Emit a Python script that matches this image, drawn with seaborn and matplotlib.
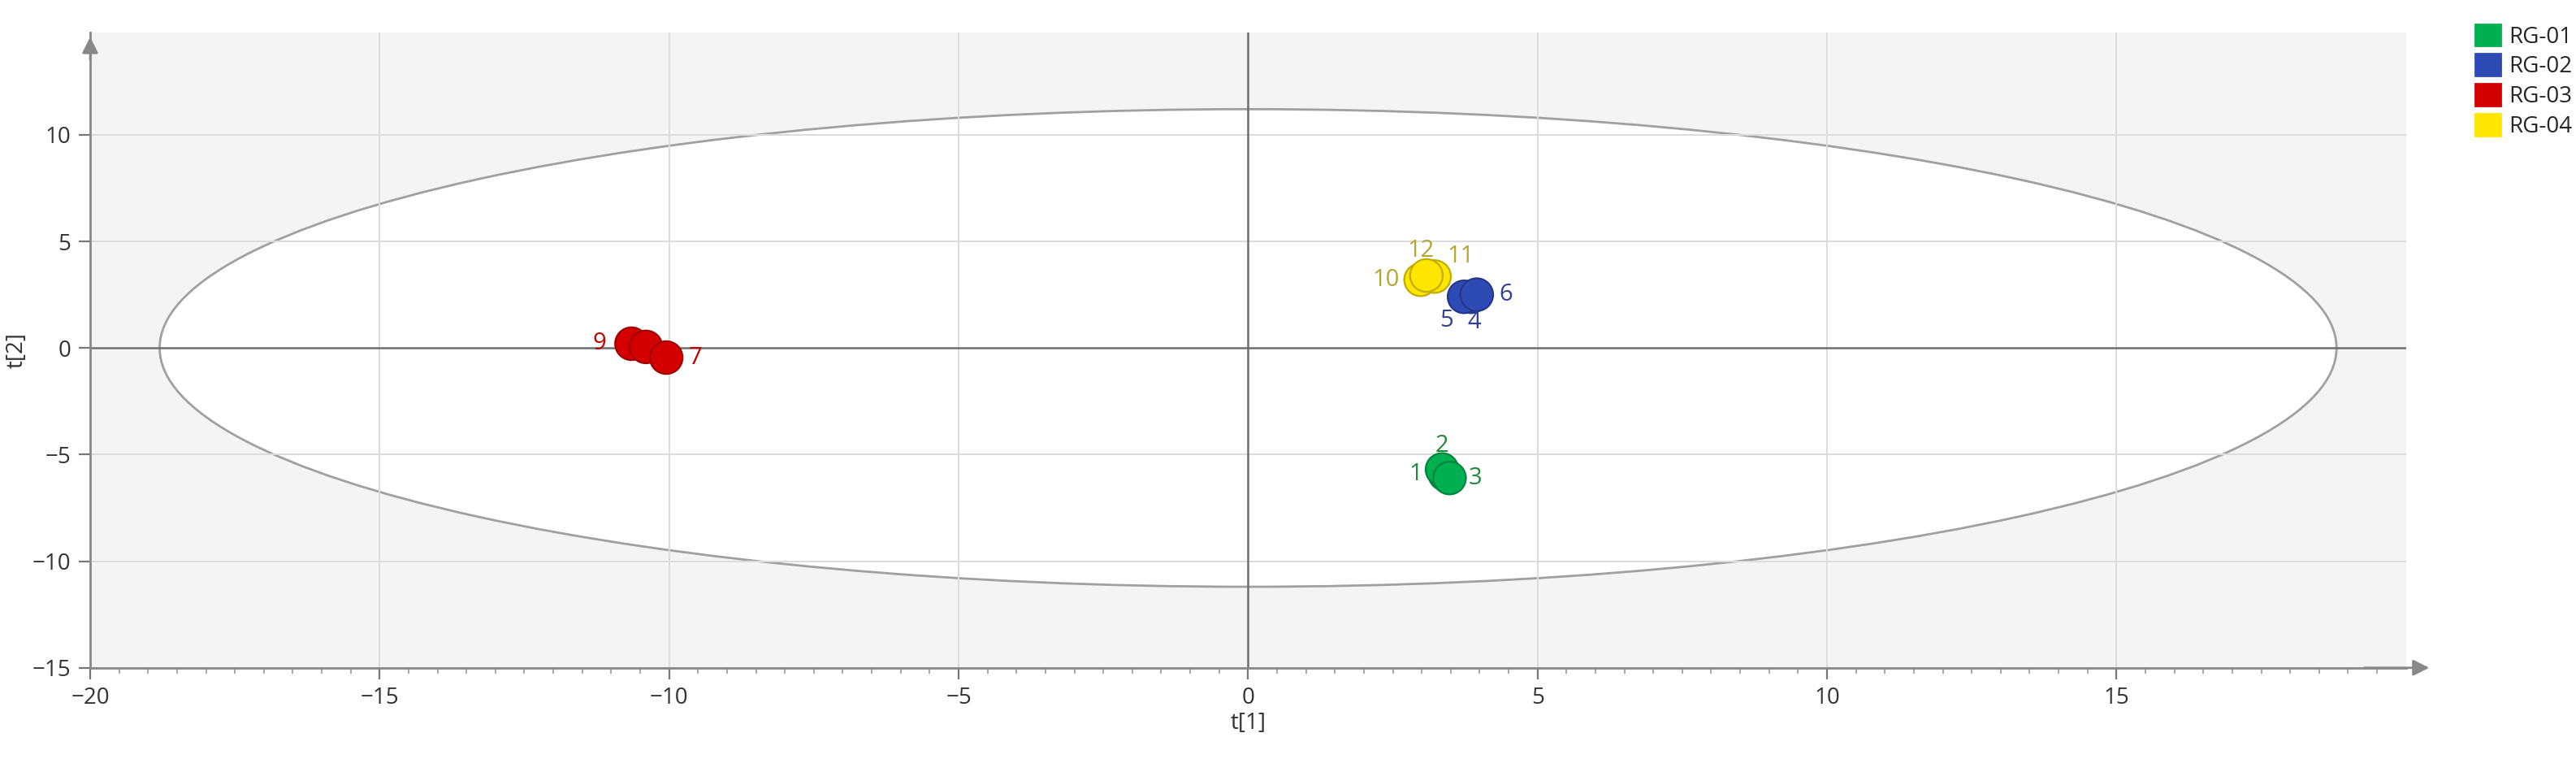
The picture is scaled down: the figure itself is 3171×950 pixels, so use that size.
import matplotlib
matplotlib.use("Agg")
import matplotlib.pyplot as plt
import seaborn as sns
import pandas as pd
from matplotlib.patches import Ellipse, Patch

ids = ["1","2","3","4","5","6","7","8","9","10","11","12"]
groups = ["RG-01"]*3 + ["RG-02"]*3 + ["RG-03"]*3 + ["RG-04"]*3
t1 = [3.40, 3.35, 3.48, 3.85, 3.73, 3.95, -10.05, -10.40, -10.65, 2.98, 3.22, 3.08]
t2 = [-5.93, -5.70, -6.10, 2.40, 2.40, 2.50, -0.45, 0.05, 0.20, 3.20, 3.35, 3.40]
label_dx = [-0.5, 0.0, 0.45, 0.05, -0.3, 0.5, 0.5, 0.0, -0.55, -0.6, 0.45, -0.1]
label_dy = [0.0, 1.1, 0.0, -1.2, -1.1, 0.0, 0.0, 0.05, 0.0, 0.0, 0.95, 1.15]
group_order = ["RG-01", "RG-02", "RG-03", "RG-04"]
colors = ["#00b050", "#2e4bb5", "#d40000", "#ffe600"]
text_colors = ["#1f8a3c", "#2e3f9a", "#c00000", "#b5a632"]

df = pd.DataFrame({"id": ids, "group": groups, "t1": t1, "t2": t2})

sns.set_style("white")
plt.rcParams['font.family'] = ['Open Sans', 'DejaVu Sans']
fig = plt.figure(figsize=(15.855, 4.75), dpi=200)
ax = fig.add_axes([0.035, 0.135, 0.899, 0.823])
ax.set_facecolor("#f4f4f4")
ax.set_xlim(-20, 20)
ax.set_ylim(-15, 14.8)
ax.add_patch(Ellipse((0, 0), 2*18.8, 2*11.2, facecolor="white", edgecolor="#a0a0a0", lw=1.0, zorder=1))
for v in [-15, -10, -5, 5, 10, 15]:
    ax.axvline(v, color="#dcdcdc", lw=0.7, zorder=1.5)
for v in [-10, -5, 5, 10]:
    ax.axhline(v, color="#dcdcdc", lw=0.7, zorder=1.5)
ax.axvline(0, color="#6e6e6e", lw=0.9, zorder=1.6)
ax.axhline(0, color="#6e6e6e", lw=0.9, zorder=1.6)

pal = dict(zip(group_order, colors))
order = [9, 8, 7, 10, 11, 12, 4, 5, 6, 1, 2, 3]
df2 = df.set_index("id").loc[[str(i) for i in order]].reset_index()
sns.scatterplot(data=df2, x="t1", y="t2", hue="group", palette=pal, s=210,
                edgecolor=None, linewidth=0.8, legend=False, ax=ax, zorder=3)
for coll in ax.collections:
    fc = coll.get_facecolors()
    if len(fc):
        ec = fc.copy()
        ec[:, :3] *= 0.75
        coll.set_edgecolors(ec)
tc = dict(zip(group_order, text_colors))
for i, r in df.iterrows():
    ax.text(r.t1 + label_dx[i], r.t2 + label_dy[i], r.id, color=tc[r.group],
            fontsize=10.5, ha="center", va="center", zorder=2.5 if r.id == "8" else 4)

ax.set_xticks([-20, -15, -10, -5, 0, 5, 10, 15])
ax.set_yticks([-15, -10, -5, 0, 5, 10])
ax.set_xticks([x/2 for x in range(-39, 40)], minor=True)
ax.tick_params(axis="x", which="major", length=5, color="#777777", labelsize=10, colors="#333333", bottom=True)
ax.tick_params(axis="x", which="minor", length=2.5, color="#999999", bottom=True)
ax.tick_params(axis="y", length=5, color="#777777", labelsize=10, colors="#333333", left=True)
for s in ["top", "right"]:
    ax.spines[s].set_visible(False)
for s in ["left", "bottom"]:
    ax.spines[s].set_color("#888888")
    ax.spines[s].set_linewidth(1.0)
ax.annotate("", xy=(1.012, 0), xycoords="axes fraction", xytext=(0.98, 0),
            arrowprops=dict(arrowstyle="-|>", color="#888888", lw=1, mutation_scale=15), annotation_clip=False)
ax.annotate("", xy=(0, 1.0), xycoords="axes fraction", xytext=(0, 0.95),
            arrowprops=dict(arrowstyle="-|>", color="#888888", lw=1, mutation_scale=15), annotation_clip=False)
ax.set_xlabel("t[1]", fontsize=10, color="#333333", labelpad=1)
ax.set_ylabel("t[2]", fontsize=10, color="#333333", labelpad=2)

handles = [Patch(facecolor=c, edgecolor=c, label=g) for g, c in zip(group_order, colors)]
fig.legend(handles=handles, loc="upper left", bbox_to_anchor=(0.953, 0.995), frameon=False,
           fontsize=10, handlelength=1.1, handleheight=1.1, handletextpad=0.4, labelspacing=0.25)
fig.savefig("out.png", dpi=200, facecolor="white")
